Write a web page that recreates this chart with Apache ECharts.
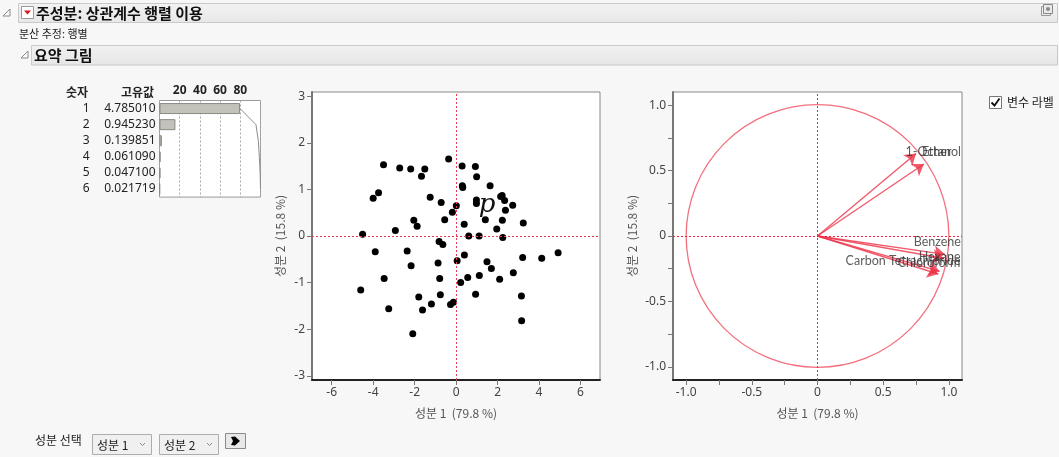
<!DOCTYPE html>
<html>
<head>
<meta charset="utf-8">
<script src="https://cdn.jsdelivr.net/npm/echarts@6/dist/echarts.min.js"></script>
<style>
html,body{margin:0;padding:0;background:#f7f7f7;}
#chart{width:1059px;height:457px;}
</style>
</head>
<body>
<div id="chart"></div>
<script>
// ---------- DATA ----------
const eigenNumbers = ['1', '2', '3', '4', '5', '6'];
const eigenValues = [4.785010, 0.945230, 0.139851, 0.061090, 0.047100, 0.021719];
const eigenPctTicks = [20, 40, 60, 80];

const scoreX = [
  -3.50, -2.72, -2.19, -1.51, -1.67, -0.36, 0.29, 0.93, 0.99, 0.30,
  0.32, 1.64, -4.00, -3.74, -1.25, -0.72, 0.01, -0.18, 0.98, 0.98,
  2.15, 2.22, 2.34, 2.73, 2.38, -2.04, -1.88, -0.55, 0.39, 1.41,
  2.23, 3.24, 1.96, -2.93, -4.51, 0.61, 1.11, 2.25, -3.90, -2.36,
  -0.82, -0.64, -2.17, -0.87, 0.05, 0.40, 1.49, 1.70, 3.21, 4.13,
  4.92, 2.76, 2.10, 1.12, 0.56, 0.22, -3.47, -0.79, -4.60, -0.76,
  -1.80, -1.19, -1.62, -3.25, -0.27, -0.13, 0.94, 3.15, 3.16, -2.09
];
const scoreY = [
  1.53, 1.46, 1.44, 1.44, 1.28, 1.65, 1.50, 1.49, 1.27, 1.08,
  1.04, 1.08, 0.81, 0.93, 0.83, 0.72, 0.65, 0.51, 0.77, 0.70,
  0.85, 0.87, 0.76, 0.66, 0.55, 0.34, 0.21, 0.35, 0.25, 0.35,
  0.34, 0.28, 0.15, 0.12, 0.04, 0.00, 0.00, -0.03, -0.34, -0.32,
  -0.12, -0.18, -0.64, -0.58, -0.53, -0.41, -0.55, -0.70, -0.46, -0.48,
  -0.36, -0.79, -0.93, -0.85, -0.89, -1.00, -0.91, -0.91, -1.16, -1.26,
  -1.31, -1.46, -1.59, -1.56, -1.47, -1.42, -1.25, -1.29, -1.82, -2.10
];
const scoreXTicks = [-6, -4, -2, 0, 2, 4, 6];
const scoreYTicks = [-3, -2, -1, 0, 1, 2, 3];

const varNames = ['1-Octanol', 'Ether', 'Chloroform', 'Benzene', 'Carbon Tetrachloride', 'Hexane'];
const loadPC1 = [0.75, 0.81, 0.92, 0.97, 0.93, 0.96];
const loadPC2 = [0.63, 0.55, -0.29, -0.14, -0.27, -0.17];
const loadTicks = [-1, -0.5, 0, 0.5, 1];
const loadAllTicks = [-1, -0.75, -0.5, -0.25, 0, 0.25, 0.5, 0.75, 1];

const pcLabel1 = '성분 1  (79.8 %)';
const pcLabel2 = '성분 2  (15.8 %)';

// ---------- derived ----------
const eigenTotal = eigenValues.reduce((a, b) => a + b, 0);
const eigenPct = eigenValues.map(v => v / eigenTotal * 100);
const cumPct = [];
eigenPct.reduce((acc, v, i) => { cumPct[i] = acc + v; return acc + v; }, 0);

// label placement for variable labels (pixel offsets, align)
const labelPlace = {
  '1-Octanol': { align: 'right', offset: [45, -2] },
  'Ether': { align: 'left', offset: [-2, -12] },
  'Benzene': { align: 'right', offset: [16, -12] },
  'Hexane': { align: 'right', offset: [17, -1] },
  'Carbon Tetrachloride': { align: 'right', offset: [21, -10] },
  'Chloroform': { align: 'right', offset: [22, -11] }
};

const FONT = '"Noto Sans", "Noto Sans CJK KR", sans-serif';
const KFONT = '"Noto Sans CJK KR", "Noto Sans", sans-serif';
const LFONT = 'Lato, "Noto Sans", sans-serif';
const tickColor = '#444';
const RED = '#f0384c';

const chart = echarts.init(document.getElementById('chart'), null, { renderer: 'canvas' });

function valAxis(grid, minV, maxV, ticks, tickMarks, name, gap, isY, lineColor, fmt) {
  const ax = {
    gridIndex: grid, type: 'value', min: minV, max: maxV,
    name: name, nameLocation: 'middle', nameGap: gap,
    nameTextStyle: { color: '#555', fontSize: 12, fontFamily: KFONT },
    position: isY ? 'left' : 'bottom',
    axisLine: { show: true, onZero: false, lineStyle: { color: lineColor, width: 2 } },
    axisLabel: { customValues: ticks, color: tickColor, fontSize: 12, fontFamily: FONT, margin: 7 },
    axisTick: { customValues: tickMarks, length: 5, lineStyle: { color: '#777' } },
    splitLine: { show: false }
  };
  if (isY) ax.nameRotate = 90;
  if (fmt) ax.axisLabel.formatter = fmt;
  return ax;
}
const loadFmt = v => v === 0 ? '0' : v.toFixed(1);
const zeroLines = {
  silent: true, symbol: 'none', label: { show: false },
  lineStyle: { color: RED, type: [2, 2], width: 1, opacity: 1 },
  data: [{ xAxis: 0 }, { yAxis: 0 }]
};

const option = {
  animation: false,
  backgroundColor: '#f7f7f7',
  grid: [
    { left: 159.5, top: 100.5, width: 101, height: 96.6, show: true, backgroundColor: '#fff', borderColor: '#9a9a9a', borderWidth: 1 },
    { left: 312, top: 92, width: 288, height: 288, show: true, backgroundColor: '#fff', borderColor: '#888', borderWidth: 1 },
    { left: 673, top: 92, width: 289, height: 288, show: true, backgroundColor: '#fff', borderColor: '#888', borderWidth: 1 }
  ],
  xAxis: [
    {
      gridIndex: 0, type: 'value', position: 'top', min: 0, max: 100,
      axisLine: { show: false }, axisTick: { show: false },
      axisLabel: { customValues: eigenPctTicks, color: '#222', fontWeight: 'bold', fontSize: 12, fontFamily: FONT, margin: 4 },
      splitLine: { show: true, customValues: eigenPctTicks, lineStyle: { color: '#aaa', type: [2, 2] } }
    },
    valAxis(1, -6.95, 6.94, scoreXTicks, scoreXTicks, pcLabel1, 27, false, '#222'),
    valAxis(2, -1.1, 1.1, loadTicks, loadAllTicks, pcLabel1, 27, false, '#222', loadFmt)
  ],
  yAxis: [
    {
      gridIndex: 0, type: 'category', inverse: true, data: eigenNumbers,
      axisLine: { show: false }, axisTick: { show: false },
      axisLabel: {
        margin: 4, fontFamily: FONT, fontSize: 12, color: '#222',
        formatter: (v, i) => '{n|' + v + '}{v|' + eigenValues[i].toFixed(6) + '}',
        rich: {
          n: { width: 30, align: 'right', fontFamily: FONT, fontSize: 12, color: '#222' },
          v: { width: 66, align: 'right', fontFamily: FONT, fontSize: 12, color: '#222' }
        }
      }
    },
    valAxis(1, -3.09, 3.09, scoreYTicks, scoreYTicks, pcLabel2, 26, true, '#777'),
    valAxis(2, -1.1, 1.1, loadTicks, loadAllTicks, pcLabel2, 35, true, '#777', loadFmt)
  ],
  series: [
    {
      type: 'bar', xAxisIndex: 0, yAxisIndex: 0, barWidth: 11,
      data: eigenPct,
      itemStyle: { color: '#c3c2ba', borderColor: '#8a8a84', borderWidth: 1 },
      silent: true
    },
    {
      type: 'line', xAxisIndex: 0, yAxisIndex: 0,
      data: cumPct.map((v, i) => [v, eigenNumbers[i]]),
      showSymbol: false, symbol: 'none',
      lineStyle: { color: '#8c8c8c', width: 1 },
      silent: true
    },
    {
      type: 'scatter', xAxisIndex: 1, yAxisIndex: 1,
      data: scoreX.map((x, i) => [x, scoreY[i]]),
      symbolSize: 7,
      itemStyle: { color: '#000', opacity: 1 },
      markLine: zeroLines,
      z: 3
    },
    {
      type: 'custom', xAxisIndex: 2, yAxisIndex: 2,
      data: [[0, 0, 1]],
      renderItem: (params, api) => {
        const c = api.coord([api.value(0), api.value(1)]);
        const r = api.size([api.value(2), api.value(2)])[0];
        return { type: 'circle', shape: { cx: c[0], cy: c[1], r: r },
          style: { fill: 'none', stroke: '#f2707e', lineWidth: 1.3 } };
      },
      silent: true, z: 2
    },
    {
      type: 'lines', coordinateSystem: 'cartesian2d', xAxisIndex: 2, yAxisIndex: 2,
      data: varNames.map((n, i) => ({ name: n, coords: [[0, 0], [loadPC1[i], loadPC2[i]]] })),
      symbol: ['none', 'arrow'], symbolSize: 11,
      lineStyle: { color: '#ec3247', width: 1.4, opacity: 0.8 },
      silent: true, z: 4
    },
    {
      type: 'scatter', xAxisIndex: 2, yAxisIndex: 2,
      symbolSize: 0.1,
      itemStyle: { color: 'rgba(0,0,0,0)' },
      markLine: Object.assign({}, zeroLines, { lineStyle: { color: '#f5233a', type: [2, 2], width: 1, opacity: 1 } }),
      data: varNames.map((n, i) => ({
        name: n, value: [loadPC1[i], loadPC2[i]],
        label: {
          show: true, position: 'inside', formatter: '{b}',
          align: labelPlace[n].align, verticalAlign: 'middle',
          offset: labelPlace[n].offset,
          color: '#333', fontSize: 12.5, fontFamily: LFONT
        }
      })),
      silent: true, z: 5
    }
  ],
  graphic: [
    { type: 'rect', shape: { x: 18.5, y: 3.5, width: 1039, height: 19 },
      style: { fill: new echarts.graphic.LinearGradient(0, 0, 0, 1, [{ offset: 0, color: '#f3f3f3' }, { offset: 1, color: '#e7e7e7' }]), stroke: '#c9c9c9', lineWidth: 1 } },
    { type: 'polygon', shape: { points: [[10, 9], [10, 16], [3, 16]] }, style: { fill: '#fff', stroke: '#888', lineWidth: 1 } },
    { type: 'rect', shape: { x: 21.5, y: 6.5, width: 12, height: 12 }, style: { fill: '#fff', stroke: '#9a9a9a', lineWidth: 1 } },
    { type: 'polygon', shape: { points: [[24, 10.5], [31, 10.5], [27.5, 14.5]] }, style: { fill: '#e0161e' } },
    { type: 'text', style: { x: 36, y: 13, text: '주성분: 상관계수 행렬 이용', font: 'bold 15px ' + KFONT, fill: '#111', verticalAlign: 'middle' } },
    { type: 'rect', shape: { x: 1041.5, y: 6.5, width: 9, height: 9 }, style: { fill: 'none', stroke: '#999', lineWidth: 1 } },
    { type: 'rect', shape: { x: 1043.5, y: 4.5, width: 9, height: 9 }, style: { fill: '#e9e9e9', stroke: '#888', lineWidth: 1 } },
    { type: 'circle', shape: { cx: 1048, cy: 9, r: 2 }, style: { fill: '#888' } },
    { type: 'text', style: { x: 19, y: 34, text: '분산 추정: 행별', font: '11px ' + KFONT, fill: '#222', verticalAlign: 'middle' } },
    { type: 'rect', shape: { x: 31.5, y: 45.5, width: 1026, height: 19.5 },
      style: { fill: new echarts.graphic.LinearGradient(0, 0, 0, 1, [{ offset: 0, color: '#f1f1f1' }, { offset: 1, color: '#e6e6e6' }]), stroke: '#c9c9c9', lineWidth: 1 } },
    { type: 'polygon', shape: { points: [[28, 51], [28, 58], [21, 58]] }, style: { fill: '#fff', stroke: '#888', lineWidth: 1 } },
    { type: 'text', style: { x: 34, y: 55.5, text: '요약 그림', font: 'bold 15px ' + KFONT, fill: '#111', verticalAlign: 'middle' } },
    { type: 'text', style: { x: 77, y: 92.5, text: '숫자', font: 'bold 12px ' + KFONT, fill: '#222', align: 'center', verticalAlign: 'middle' } },
    { type: 'text', style: { x: 154, y: 92.5, text: '고유값', font: 'bold 12px ' + KFONT, fill: '#222', align: 'right', verticalAlign: 'middle' } },
    { type: 'text', style: { x: 487, y: 205, text: 'p', font: 'italic 26px "DejaVu Serif", serif', fill: '#111', align: 'center', verticalAlign: 'middle' }, z: 10 },
    { type: 'rect', shape: { x: 989.5, y: 96.5, width: 12, height: 12 }, style: { fill: '#fff', stroke: '#777', lineWidth: 1 } },
    { type: 'polyline', shape: { points: [[991.5, 102.5], [994.5, 105.5], [999.5, 98.5]] }, style: { stroke: '#111', lineWidth: 1.8, fill: 'none' } },
    { type: 'text', style: { x: 1007, y: 102.5, text: '변수 라벨', font: '12px ' + KFONT, fill: '#222', verticalAlign: 'middle' } },
    { type: 'text', style: { x: 35, y: 440, text: '성분 선택', font: '12px ' + KFONT, fill: '#222', verticalAlign: 'middle' } },
    { type: 'rect', shape: { x: 92.5, y: 434.5, width: 59, height: 20 }, style: { fill: '#f0f0f0', stroke: '#adadad', lineWidth: 1 } },
    { type: 'text', style: { x: 97, y: 445, text: '성분 1', font: '12px ' + KFONT, fill: '#222', verticalAlign: 'middle' } },
    { type: 'polyline', shape: { points: [[140, 443], [142.5, 445.5], [145, 443]] }, style: { stroke: '#888', lineWidth: 1, fill: 'none' } },
    { type: 'rect', shape: { x: 159.5, y: 434.5, width: 59, height: 20 }, style: { fill: '#f0f0f0', stroke: '#adadad', lineWidth: 1 } },
    { type: 'text', style: { x: 164, y: 445, text: '성분 2', font: '12px ' + KFONT, fill: '#222', verticalAlign: 'middle' } },
    { type: 'polyline', shape: { points: [[207, 443], [209.5, 445.5], [212, 443]] }, style: { stroke: '#888', lineWidth: 1, fill: 'none' } },
    { type: 'rect', shape: { x: 225.5, y: 433.5, width: 20, height: 15 }, style: { fill: '#e8e8e8', stroke: '#8a8a8a', lineWidth: 1 } },
    { type: 'polygon', shape: { points: [[231, 437], [235, 436.5], [240, 441], [235, 445.5], [231, 445], [233, 441]] }, style: { fill: '#000' } }
  ]
};

chart.setOption(option);
</script>
</body>
</html>
